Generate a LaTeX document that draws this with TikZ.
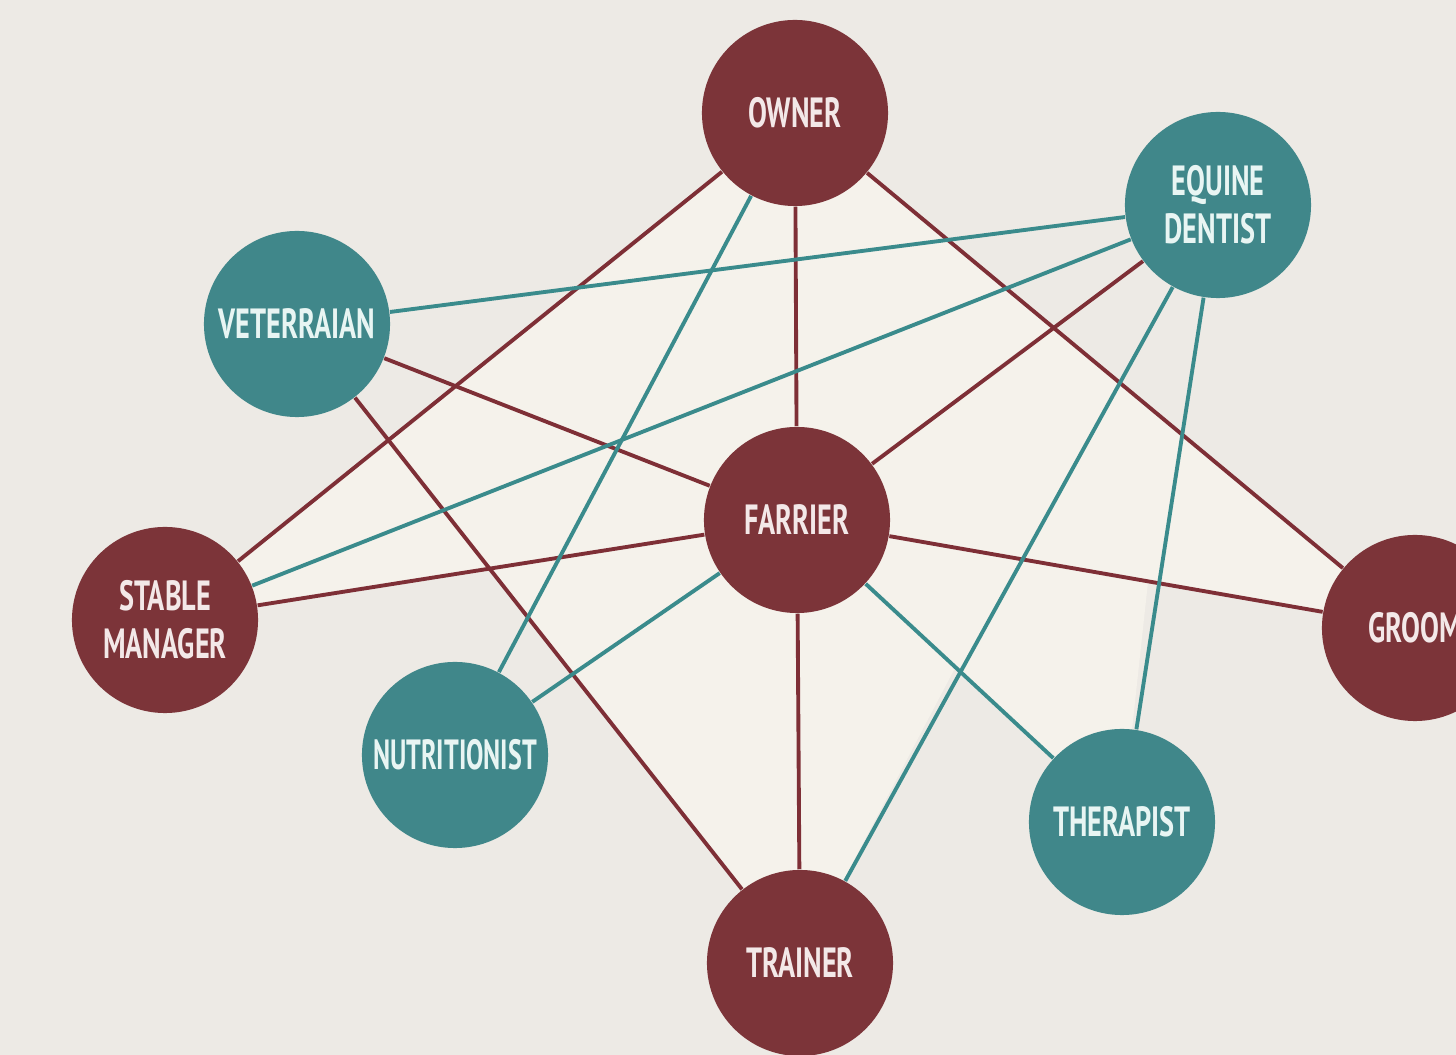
\documentclass[tikz,border=0pt]{standalone}
\usepackage{fontspec}
\newfontfamily\labelfont[FakeStretch=0.67]{PT Sans}
\definecolor{bgout}{HTML}{EDEAE5}
\definecolor{bgin}{HTML}{F5F2EB}
\definecolor{maroon}{HTML}{7C3439}
\definecolor{teal}{HTML}{40878A}
\definecolor{maroonline}{HTML}{7E2F36}
\definecolor{tealline}{HTML}{3A8B8C}
\definecolor{txtm}{HTML}{F3E8E8}
\definecolor{txtt}{HTML}{E8F5F3}
\tikzset{
  person/.style={circle, minimum size=1.86cm, inner sep=0pt, align=center,
    font=\labelfont\bfseries\fontsize{12}{13.6}\selectfont},
  mnode/.style={person, fill=maroon, text=txtm},
  tnode/.style={person, fill=teal, text=txtt},
  mlink/.style={draw=maroonline, line width=1.1pt},
  tlink/.style={draw=tealline, line width=1.1pt}
}
\begin{document}
\begin{tikzpicture}[x=0.01cm, y=-0.01cm]
\clip (0,0) rectangle (1456,1055);
\fill[bgout] (0,0) rectangle (1456,1055);
\fill[bgin] (795,113) -- (1415,628) -- (1148,582) -- (1122,822) -- (955,668) -- (800,963) -- (492,570) -- (165,620) -- cycle;
% nodes
\node[mnode] (owner) at (795,113) {OWNER};
\node[tnode] (dentist) at (1218,205) {EQUINE\\DENTIST};
\node[tnode] (vet) at (297,324) {VETERRAIAN};
\node[mnode] (farrier) at (797,520) {FARRIER};
\node[mnode] (stable) at (165,620) {STABLE\\MANAGER};
\node[mnode] (groom) at (1415,628) {GROOM};
\node[tnode] (nutri) at (455,755) {\scalebox{0.92}[1]{NUTRITIONIST}};
\node[tnode] (thera) at (1122,822) {THERAPIST};
\node[mnode] (trainer) at (800,963) {TRAINER};
% maroon connectors
\draw[mlink] (owner) -- (stable);
\draw[mlink] (owner) -- (farrier);
\draw[mlink] (owner) -- (groom);
\draw[mlink] (vet) -- (farrier);
\draw[mlink] (vet) -- (trainer);
\draw[mlink] (farrier) -- (dentist);
\draw[mlink] (farrier) -- (stable);
\draw[mlink] (farrier) -- (groom);
\draw[mlink] (farrier) -- (trainer);
% teal connectors
\draw[tlink] (owner) -- (nutri);
\draw[tlink] (vet) -- (dentist);
\draw[tlink] (dentist) -- (stable);
\draw[tlink] (dentist) -- (trainer);
\draw[tlink] (dentist) -- (thera);
\draw[tlink] (farrier) -- (nutri);
\draw[tlink] (farrier) -- (thera);
\end{tikzpicture}
\end{document}
